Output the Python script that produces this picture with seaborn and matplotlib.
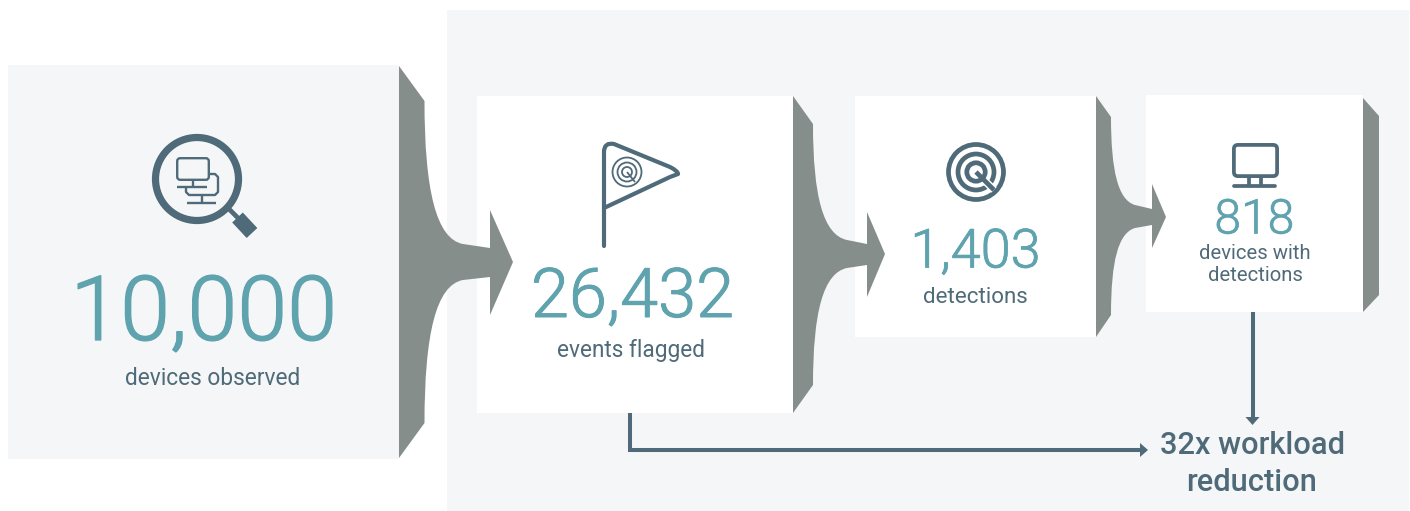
import matplotlib
matplotlib.use('Agg')
import matplotlib.pyplot as plt
import matplotlib.patheffects as pe
import seaborn as sns
from matplotlib.patches import Circle, FancyBboxPatch, PathPatch, Polygon, Rectangle
from matplotlib.path import Path

# Chart content
stage_values = ['10,000', '26,432', '1,403', '818']
stage_labels = ['devices observed', 'events flagged', 'detections', 'devices with\ndetections']
result_label = '32x workload\nreduction'

GREY_BG = '#f5f6f8'
ARROW = '#868e8c'
DARK = '#4f6a78'
TEAL = '#5fa3af'

sns.set_theme(style='white')
plt.rcParams['font.family'] = ['Roboto', 'DejaVu Sans']

fig, ax = plt.subplots(figsize=(14.1, 5.11), dpi=100)
ax.set_position([0, 0, 1, 1])
ax.set_xlim(0, 1410)
ax.set_ylim(511, 0)
ax.axis('off')
sns.despine(ax=ax, left=True, bottom=True)


def rect(x0, y0, x1, y1, color, z=1):
    ax.add_patch(Rectangle((x0, y0), x1 - x0, y1 - y0, fc=color, ec='none', zorder=z))


def funnel_arrow(left, top, bottom, sx, sy_top, sy_bot, nx, ny_top, ny_bot, hx, hy_top, hy_bot, tip_x, tip_y):
    # flat back, curved shoulders, then a narrow neck with an arrow head
    verts = [
        (left, top), (sx, sy_top),
        (sx, sy_top + 0.62 * (ny_top - sy_top)), (sx + 0.3 * (nx - sx), ny_top - 5), (nx, ny_top),
        (hx, ny_top + 4), (hx, hy_top), (tip_x, tip_y), (hx, hy_bot), (hx, ny_bot - 3),
        (nx, ny_bot),
        (sx + 0.3 * (nx - sx), ny_bot + 5), (sx, sy_bot - 0.62 * (sy_bot - ny_bot)), (sx, sy_bot),
        (left, bottom), (left, top),
    ]
    codes = [
        Path.MOVETO, Path.LINETO,
        Path.CURVE4, Path.CURVE4, Path.CURVE4,
        Path.LINETO, Path.LINETO, Path.LINETO, Path.LINETO, Path.LINETO,
        Path.LINETO,
        Path.CURVE4, Path.CURVE4, Path.CURVE4,
        Path.LINETO, Path.CLOSEPOLY,
    ]
    ax.add_patch(PathPatch(Path(verts, codes), fc=ARROW, ec='none', zorder=3))


def stroke(xs, ys, lw, color=DARK, z=5, cap='butt'):
    ax.plot(xs, ys, color=color, lw=lw, solid_capstyle=cap, solid_joinstyle='round', zorder=z)


def ring(cx, cy, r, lw, z=5):
    ax.add_patch(Circle((cx, cy), r, fc='none', ec=DARK, lw=lw, zorder=z))


def round_box(x0, y0, x1, y1, lw, fc='none', z=5, pad=3):
    ax.add_patch(FancyBboxPatch((x0 + pad, y0 + pad), x1 - x0 - 2 * pad, y1 - y0 - 2 * pad,
                                boxstyle=f'round,pad={pad}', fc=fc, ec=DARK, lw=lw, zorder=z))


# Backgrounds and white cards
rect(8, 65, 399, 459, GREY_BG)
rect(447, 10, 1409, 511, GREY_BG)
rect(477, 96, 793, 413.5, 'white', 2)
rect(855, 96, 1096, 337.5, 'white', 2)
rect(1146, 95, 1363, 312.5, 'white', 2)

# Flow arrows between the stages
funnel_arrow(399, 66, 458, 424.5, 101, 423, 463, 244, 280, 490, 210, 315, 513, 262)
funnel_arrow(793, 96, 413, 813, 124, 385, 847, 240, 268, 867, 212, 297, 885, 254)
funnel_arrow(1096, 96, 337, 1111, 117, 315, 1135, 205, 228, 1152, 184, 248, 1166, 217)
ax.add_patch(Polygon([(1363, 98), (1379, 116), (1379, 295), (1363, 312)], fc=ARROW, ec='none', zorder=3))

# Magnifier icon
ring(197, 179, 41.5, 5.2)
stroke([229, 239], [209, 219], 3.4)
stroke([237.5, 252], [217.5, 233], 10.5)
round_box(177.2, 158.2, 208.8, 179.8, 1.7)
stroke([193, 193], [180, 187], 1.7)
stroke([177, 207], [187, 187], 1.7)
stroke([209, 215, 218, 218, 215, 189, 186, 186], [174, 174, 177, 192, 195, 195, 192, 187], 1.7)
stroke([202, 202], [195, 203], 1.7)
stroke([187, 216], [203, 203], 1.7)

# Flag icon
flag_verts = [(604, 246), (604, 152), (604, 142), (614, 144), (670, 167), (678, 171), (678, 174), (670, 177), (604, 208)]
flag_codes = [Path.MOVETO, Path.LINETO, Path.CURVE3, Path.CURVE3, Path.LINETO, Path.CURVE3, Path.CURVE3, Path.LINETO, Path.LINETO]
ax.add_patch(PathPatch(Path(flag_verts, flag_codes), fc='none', ec=DARK, lw=3, capstyle='round', joinstyle='round', zorder=5))
for r in [14.5, 9.5, 5]:
    ring(627, 172, r, 1.3)
stroke([627, 635], [172, 182], 1.3)

# Radar icon
for r in [27.5, 18, 9.2]:
    ring(976, 172, r, 3.4)
stroke([984, 994], [180, 190], 5.5, color='white', z=6)
stroke([976, 994], [172, 190], 3.4, z=7)

# Monitor icon
round_box(1233.9, 144.9, 1277.1, 176.1, 2.7, pad=4)
stroke([1249, 1249], [176, 186], 2.7)
stroke([1261, 1261], [176, 186], 2.7)
stroke([1234, 1275], [186, 186], 2.7, cap='round')

# Connectors to the result label
conn_x = [630, 630, 1141]
conn_y = [413, 450, 450]
sns.lineplot(x=conn_x, y=conn_y, sort=False, estimator=None, color=DARK, lw=2.9, ax=ax, zorder=5,
             solid_capstyle='butt', solid_joinstyle='miter')
sns.lineplot(x=[1252.5, 1252.5], y=[312, 418], sort=False, estimator=None, color=DARK, lw=2.9, ax=ax, zorder=5,
             solid_capstyle='butt')
ax.add_patch(Polygon([(1140, 443), (1148, 450), (1140, 457)], fc=DARK, ec='none', zorder=5))
ax.add_patch(Polygon([(1245.5, 417), (1259.5, 417), (1252.5, 425)], fc=DARK, ec='none', zorder=5))

# Big numbers: light weight thickened a little, the source sits between light and regular
value_xy = [(203.5, 340), (632.5, 317), (975.5, 267.5), (1254.5, 233.5)]
value_px = [90, 68.5, 54, 48]
for v, (x, y), px in zip(stage_values, value_xy, value_px):
    t = ax.text(x, y, v, color=TEAL, fontsize=px * 0.72, fontweight=300, ha='center', va='baseline', zorder=6)
    t.set_path_effects([pe.withStroke(linewidth=px * 0.0105, foreground=TEAL)])

# Captions
label_xy = [(212.5, 385), (631, 357), (975.5, 303)]
label_px = [22.7, 22.6, 22.4]
for t, (x, y), px in zip(stage_labels[:3], label_xy, label_px):
    ax.text(x, y, t, color=DARK, fontsize=px * 0.72, ha='center', va='baseline', zorder=6)
for t, y in zip(stage_labels[3].split('\n'), [259, 281]):
    ax.text(1255, y, t, color=DARK, fontsize=20.3 * 0.72, ha='center', va='baseline', zorder=6)
for t, y in zip(result_label.split('\n'), [454, 491]):
    ax.text(1252, y, t, color=DARK, fontsize=30.8 * 0.72, fontweight='medium', ha='center', va='baseline', zorder=6)

fig.savefig('out.png', dpi=100, facecolor='white')
